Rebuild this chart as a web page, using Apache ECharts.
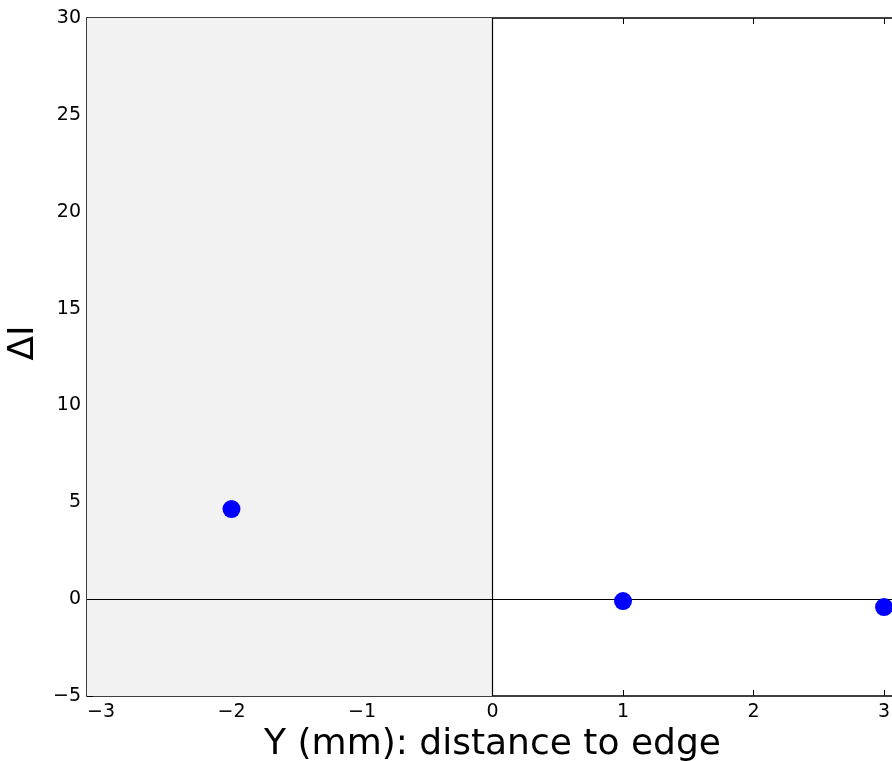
<!DOCTYPE html>
<html><head><meta charset="utf-8">
<script src="https://cdn.jsdelivr.net/npm/echarts@6/dist/echarts.min.js"></script>
<style>html,body{margin:0;padding:0;background:#fff;overflow:hidden}#c{width:892px;height:761px}</style>
</head><body><div id="c"></div>
<script>
const xValues = [-2, 1, 3];
const yValues = [4.65, -0.1, -0.41];
const xTicks = [-3, -2, -1, 0, 1, 2, 3];
const yTicks = [-5, 0, 5, 10, 15, 20, 25, 30];
const xRange = [-3.107, 3.107];
const yRange = [-5, 30];
const shadedRange = [-3.107, 0];
const xLabel = 'Y (mm): distance to edge';
const yLabel = 'ΔI';

const fmt = v => (v < 0 ? '\u2212' + Math.abs(v) : String(v));
const font = 'DejaVu Sans';
const axisLineStyle = {color: '#000', width: 1.5};
const tick = {show: true, inside: true, length: 6, lineStyle: {color: '#000', width: 1}};

const chart = echarts.init(document.getElementById('c'), null, {renderer: 'canvas'});
chart.setOption({
  animation: false,
  backgroundColor: '#fff',
  grid: {left: 87, top: 18, width: 811, height: 678, containLabel: false, outerBoundsMode: 'none'},
  xAxis: [{
    type: 'value', min: xRange[0], max: xRange[1],
    axisLine: {show: true, onZero: false, lineStyle: axisLineStyle},
    axisTick: Object.assign({customValues: xTicks}, tick),
    axisLabel: {customValues: xTicks, formatter: fmt, color: '#000', fontFamily: font, fontSize: 19, margin: 7},
    splitLine: {show: false},
    name: xLabel, nameLocation: 'middle', nameGap: 23,
    nameTextStyle: {fontFamily: font, fontSize: 36, color: '#000'}
  }, {
    type: 'value', position: 'top', min: xRange[0], max: xRange[1],
    axisLine: {show: true, onZero: false, lineStyle: axisLineStyle},
    axisTick: Object.assign({customValues: xTicks}, tick),
    axisLabel: {show: false}, splitLine: {show: false}
  }],
  yAxis: [{
    type: 'value', min: yRange[0], max: yRange[1], interval: 5,
    axisLine: {show: true, onZero: false, lineStyle: axisLineStyle},
    axisTick: tick,
    axisLabel: {formatter: fmt, color: '#000', fontFamily: font, fontSize: 19, margin: 6},
    splitLine: {show: false},
    name: yLabel, nameLocation: 'middle', nameGap: 42, nameRotate: 90,
    nameTextStyle: {fontFamily: font, fontSize: 36, color: '#000', padding: [0, 0, 0, 28]}
  }, {
    type: 'value', position: 'right', min: yRange[0], max: yRange[1], interval: 5,
    axisLine: {show: true, onZero: false, lineStyle: axisLineStyle},
    axisTick: tick, axisLabel: {show: false}, splitLine: {show: false}
  }],
  series: [{
    type: 'scatter',
    data: xValues.map((x, i) => [x, yValues[i]]),
    symbol: 'circle', symbolSize: 18,
    itemStyle: {color: '#0000ff', opacity: 1},
    z: 5,
    markArea: {
      silent: true,
      itemStyle: {color: '#f2f2f2'},
      data: [[{xAxis: shadedRange[0]}, {xAxis: shadedRange[1]}]]
    },
    markLine: {
      silent: true, symbol: 'none',
      label: {show: false},
      lineStyle: {color: '#000', width: 1.2, type: 'solid'},
      data: [{xAxis: 0}, {yAxis: 0}]
    }
  }]
});
</script></body></html>
